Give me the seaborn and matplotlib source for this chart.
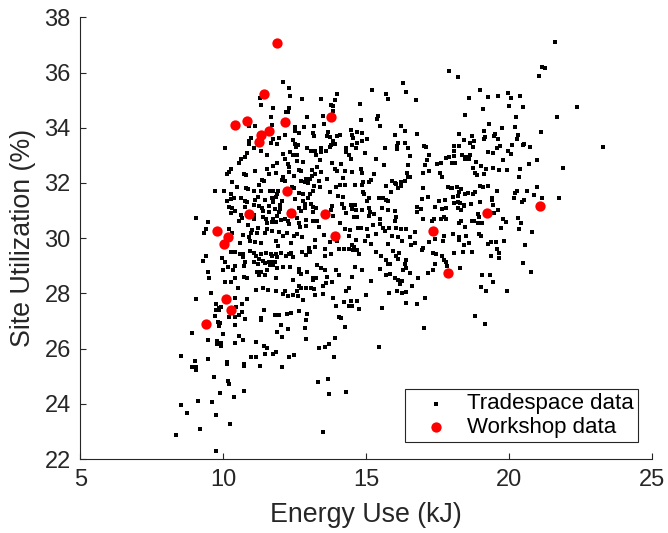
import matplotlib
matplotlib.use("Agg")
import matplotlib.pyplot as plt
import seaborn as sns
import pandas as pd

# Simulated design alternatives (energy in kJ, site utilization in %)
tradespace_energy = [
    12.10, 12.28, 12.34, 11.28, 11.33, 12.74, 11.74, 12.30, 12.20, 12.27,
    11.66, 12.92, 11.69, 10.91, 11.12, 12.50, 12.52, 12.63, 12.83, 12.15,
    10.97, 10.91, 10.88, 11.75, 11.96, 12.43, 12.49, 12.53, 12.62, 11.65,
    11.86, 12.92, 10.06, 11.07, 10.83, 10.77, 12.34, 12.44, 12.56, 12.10,
    12.16, 11.52, 11.31, 10.61, 10.55, 11.86, 11.74, 12.27, 12.31, 12.29,
    12.56, 12.80, 12.64, 12.73, 10.25, 10.18, 10.11, 10.73, 10.80, 11.12,
    11.54, 11.58, 11.85, 12.09, 12.06, 12.14, 12.46, 12.72, 12.88, 13.02,
    10.30, 10.46, 9.70, 10.02, 10.79, 10.87, 11.07, 11.36, 11.43, 11.26,
    11.31, 11.62, 11.74, 11.92, 11.88, 12.39, 12.46, 12.64, 12.78, 12.85,
    12.95, 10.28, 10.38, 10.27, 10.12, 10.63, 10.76, 10.82, 11.12, 11.20,
    11.07, 11.45, 11.69, 11.72, 11.85, 11.75, 12.04, 11.97, 12.52, 12.80,
    12.86, 12.97, 10.20, 10.31, 10.41, 10.75, 11.23, 11.35, 11.39, 11.59,
    11.61, 11.80, 11.99, 11.94, 11.88, 12.64, 12.71, 12.85, 10.26, 10.63,
    10.66, 10.56, 11.07, 11.08, 11.38, 11.48, 11.51, 11.74, 11.71, 11.85,
    12.03, 12.15, 12.27, 12.29, 12.59, 12.63, 12.69, 12.88, 12.88, 9.05,
    9.47, 9.40, 9.32, 10.21, 10.30, 10.86, 11.00, 10.96, 11.20, 11.19,
    11.45, 11.52, 11.71, 11.96, 12.10, 12.22, 12.46, 12.58, 12.76, 10.69,
    10.88,
    17.88, 16.29, 15.21, 15.70, 16.38, 15.75, 16.73, 13.96, 13.42, 13.90,
    14.78, 13.75, 13.84, 13.85, 13.48, 15.40, 15.37, 14.81, 13.51, 13.16,
    15.48, 16.20, 16.36, 14.48, 14.50, 14.55, 14.69, 14.86, 13.12, 13.17,
    13.65, 13.61, 13.73, 13.96, 14.07, 16.02, 16.79, 15.02, 14.86, 13.82,
    13.89, 13.72, 13.78, 14.69, 14.49, 14.64, 16.12, 16.09, 16.35, 16.07,
    15.65, 16.46, 17.02, 17.10, 13.05, 13.21, 13.23, 13.43, 13.59, 13.43,
    14.28, 14.29, 14.40, 14.95, 16.52, 17.18, 17.14, 17.49, 17.60, 17.80,
    17.88, 17.99, 15.33, 13.37, 13.79, 14.13, 13.89, 14.45, 15.63, 16.45,
    17.04, 13.27, 13.99, 14.25, 14.49, 14.81, 14.84, 13.10, 13.20, 13.09,
    16.41, 16.53, 16.47, 16.99, 17.20, 17.58, 17.66, 13.43, 15.26, 13.63,
    14.17, 14.07, 15.17, 15.11, 14.89, 14.86, 14.62, 15.89, 16.00, 16.04,
    16.20, 16.35, 16.23, 15.68, 13.34, 13.16, 13.38, 13.93, 14.24, 15.86,
    16.11, 16.97, 17.86, 17.95, 13.13, 13.03, 13.73, 14.01, 14.17, 14.88,
    14.91, 15.09, 15.03, 15.45, 15.58, 15.69, 15.77, 16.96, 17.15, 17.56,
    17.76, 13.07, 13.12, 13.23, 13.14, 13.80, 13.77, 13.85, 14.14, 14.22,
    14.29, 14.45, 14.62, 14.49, 14.63, 14.57, 14.67, 14.84, 15.10, 15.14,
    15.26, 15.10, 15.56, 15.75, 16.02, 16.04, 16.76, 16.79, 16.93, 17.41,
    17.66, 17.78, 17.72, 17.78, 17.62, 17.30, 17.36, 16.97, 13.12, 13.28,
    13.36, 14.07, 14.26, 14.43, 14.71, 14.83, 15.03, 15.23, 15.47, 15.48,
    15.60, 15.67, 15.81, 16.02, 16.05, 16.20, 16.38, 16.69, 13.52, 14.40,
    15.05, 15.34, 15.90, 16.12, 16.54, 17.72,
    21.62, 21.15, 21.24, 21.04, 18.20, 18.98, 18.58, 19.26, 19.62, 19.95,
    20.05, 20.39, 22.39, 19.07, 19.98, 20.47, 18.47, 20.23, 21.68, 19.29,
    19.74, 20.21, 19.12, 21.10, 18.23, 18.71, 19.15, 19.12, 19.46, 19.50,
    19.61, 20.30, 20.27, 18.43, 18.62, 18.78, 18.08, 18.26, 18.75, 19.69,
    19.57, 20.09, 20.47, 20.53, 20.72, 23.30, 18.06, 18.06, 18.36, 18.50,
    18.63, 18.45, 18.61, 19.27, 19.45, 19.96, 20.05, 20.98, 18.05, 18.10,
    18.83, 19.79, 20.69, 21.89, 18.72, 19.03, 19.18, 19.45, 19.63, 19.91,
    20.37, 18.82, 18.87, 19.11, 20.35, 18.98, 19.08, 19.26, 18.00, 18.19,
    18.30, 18.23, 18.44, 18.57, 18.72, 18.82, 19.59, 20.26, 20.20, 20.61,
    20.98, 19.41, 19.41, 20.17, 20.88, 21.76, 18.03, 18.20, 18.06, 18.22,
    18.27, 18.43, 18.43, 18.68, 18.98, 19.43, 20.52, 20.45, 21.16, 18.20,
    18.31, 19.46, 19.61, 18.92, 18.96, 18.31, 18.26, 18.71, 18.78, 18.92,
    19.05, 19.77, 19.89, 20.30, 20.40, 18.47, 19.70, 20.33, 20.79, 18.03,
    18.23, 18.49, 18.94, 19.00,
    10.59, 10.94, 11.12, 11.30, 11.85, 11.92, 12.38, 10.27, 10.40, 10.59,
    10.68, 10.70, 10.94, 11.08, 11.15, 11.32, 11.23, 11.50, 11.68, 11.71,
    11.83, 11.88, 12.03, 12.20, 12.31, 12.37, 12.45, 12.76, 12.90, 12.99,
    9.38, 9.29, 9.95, 10.06, 10.76, 10.73, 11.07, 11.22, 11.39, 11.45,
    11.59, 11.68, 11.64, 11.75, 11.82, 11.86, 12.07, 12.34, 12.64, 12.70,
    12.64, 12.93, 10.17, 10.39, 9.98, 10.32, 9.47, 9.49, 10.72, 10.84,
    11.18, 11.24, 11.33, 11.47, 11.54, 11.83, 12.43, 10.06, 10.25, 10.39,
    10.51, 9.56, 11.15, 11.38, 11.55, 11.85, 12.08, 12.17, 12.25, 12.43,
    12.58, 12.60, 12.66, 12.72, 12.78, 12.90, 9.05, 10.83, 10.66, 10.39,
    9.75, 9.86, 9.75, 9.83, 9.90, 10.45, 10.66, 10.54, 10.40, 10.21,
    9.69, 9.80, 9.84, 9.89, 10.75, 10.41, 11.41, 11.32, 11.31, 11.79,
    11.93, 12.22, 12.37, 12.63, 12.92, 12.90, 12.03, 12.25, 11.86, 12.04,
    12.86, 12.90, 8.89, 10.00, 10.56, 10.68, 9.45, 9.78, 9.93, 9.77,
    9.93, 10.41, 11.15, 11.43, 11.52, 11.15, 10.96, 11.45, 11.74, 11.85,
    12.28, 12.48, 8.50, 9.45, 9.00, 8.89, 9.03, 9.04, 10.14, 10.14,
    10.72, 10.72, 11.28, 12.06, 9.66, 10.17, 10.20, 9.89, 10.72, 10.37,
    9.12, 9.60, 8.50, 8.71, 9.74, 10.24, 9.18, 8.33, 9.74,
    13.21, 13.72, 13.99, 14.49, 14.63, 14.96, 15.17, 15.75, 16.26, 16.57,
    16.71, 17.20, 17.41, 17.69, 13.00, 13.21, 13.03, 13.55, 13.55, 13.76,
    14.03, 14.22, 14.40, 14.53, 14.57, 14.67, 14.75, 15.35, 15.52, 15.95,
    16.15, 16.05, 16.12, 15.70, 15.77, 15.84, 16.38, 16.36, 16.38, 16.30,
    16.94, 16.99, 17.34, 17.44, 17.41, 17.35, 17.64, 17.71, 17.78, 17.83,
    17.15, 13.29, 13.42, 13.56, 13.93, 14.05, 14.59, 14.86, 13.61, 13.79,
    13.58, 13.49, 13.14, 13.23, 13.12, 13.05, 13.16, 13.20, 13.49, 14.49,
    15.17, 15.48, 15.68, 15.82, 16.01, 16.10, 16.26, 16.17, 16.52, 16.82,
    16.61, 14.28, 14.38, 15.00, 15.81, 16.09, 16.26, 16.40, 13.84, 13.93,
    14.22, 14.48, 14.41, 14.49, 14.67, 14.74, 15.55, 16.38, 16.76, 17.06,
    14.04, 14.12, 14.26, 17.02, 13.90, 13.70, 13.34, 13.55, 13.86, 15.46,
    13.30, 13.66, 13.70, 14.28, 13.48,
    18.23, 18.43, 18.61, 19.26, 19.38, 19.53, 19.81, 20.54, 18.08, 18.38,
    18.70, 19.56, 19.63, 19.35, 19.65, 20.47, 20.76, 18.28, 19.06, 19.32,
    19.43, 19.00, 19.18, 19.91, 18.79, 19.14,
]

tradespace_util = [
    35.67, 35.45, 35.15, 35.09, 34.81, 35.03, 34.73, 34.73, 34.57, 34.57,
    34.39, 34.39, 34.11, 34.05, 34.05, 34.01, 33.87, 33.82, 34.01, 33.75,
    33.63, 33.52, 33.40, 33.60, 33.62, 33.56, 33.41, 33.29, 33.39, 33.43,
    33.40, 33.25, 33.25, 33.25, 33.08, 32.93, 33.13, 33.01, 33.02, 33.05,
    32.87, 33.00, 33.17, 32.86, 32.72, 32.71, 32.61, 32.70, 32.57, 32.40,
    32.81, 32.76, 32.47, 32.44, 32.52, 32.41, 32.34, 32.31, 32.28, 32.43,
    32.49, 32.34, 32.37, 32.21, 32.12, 32.06, 32.25, 32.06, 32.13, 32.14,
    32.03, 31.86, 31.72, 31.72, 31.80, 31.77, 31.72, 32.09, 32.07, 31.91,
    31.71, 31.72, 31.70, 31.70, 31.61, 31.84, 31.80, 31.64, 31.59, 32.03,
    31.99, 31.60, 31.47, 31.42, 31.33, 31.47, 31.36, 31.32, 31.37, 31.48,
    31.21, 31.39, 31.47, 31.38, 31.48, 31.30, 31.35, 31.20, 31.42, 31.35,
    31.22, 31.45, 31.12, 31.08, 30.99, 31.14, 31.18, 31.10, 30.98, 31.15,
    30.93, 31.06, 31.06, 30.93, 30.80, 31.09, 30.98, 31.09, 30.90, 30.85,
    30.74, 30.61, 30.84, 30.68, 30.78, 30.69, 30.55, 30.68, 30.58, 30.57,
    30.66, 30.70, 30.61, 30.52, 30.72, 30.56, 30.40, 30.67, 30.45, 30.72,
    30.58, 30.32, 30.17, 30.32, 30.19, 30.46, 30.31, 30.19, 30.38, 30.17,
    30.19, 30.32, 30.27, 30.23, 30.09, 30.19, 30.09, 30.14, 30.05, 30.10,
    30.04,
    36.04, 35.61, 35.37, 35.23, 35.31, 35.03, 34.99, 35.21, 35.03, 34.99,
    34.87, 34.81, 34.79, 34.59, 34.41, 34.41, 34.32, 34.27, 34.14, 34.07,
    34.05, 34.07, 33.89, 33.92, 33.75, 33.62, 33.83, 33.80, 33.80, 33.69,
    33.86, 33.71, 33.66, 33.70, 33.72, 33.75, 33.77, 33.60, 33.52, 33.51,
    33.42, 33.29, 33.36, 33.43, 33.36, 33.28, 33.45, 33.33, 33.46, 33.23,
    33.27, 33.25, 33.35, 33.31, 33.17, 33.16, 33.00, 33.27, 33.16, 33.12,
    33.25, 33.12, 33.00, 33.10, 32.98, 33.00, 32.84, 32.67, 32.72, 32.89,
    32.93, 32.72, 32.86, 32.82, 32.72, 32.69, 32.49, 32.87, 32.65, 32.65,
    32.64, 32.57, 32.44, 32.42, 32.40, 32.50, 32.36, 32.47, 32.32, 32.25,
    32.36, 32.23, 32.20, 32.37, 32.42, 32.37, 32.23, 32.40, 32.34, 32.13,
    32.18, 31.94, 32.12, 32.05, 32.05, 31.94, 31.94, 32.06, 32.01, 31.95,
    32.02, 32.06, 31.90, 31.89, 32.06, 31.89, 31.84, 31.84, 31.94, 31.67,
    31.82, 31.82, 31.84, 31.82, 31.70, 31.60, 31.67, 31.51, 31.48, 31.67,
    31.59, 31.45, 31.33, 31.45, 31.45, 31.37, 31.36, 31.42, 31.50, 31.36,
    31.37, 31.24, 31.13, 31.09, 30.93, 31.16, 31.02, 30.79, 31.24, 31.08,
    30.90, 31.20, 31.20, 31.04, 31.03, 30.75, 30.77, 31.03, 31.08, 30.96,
    30.89, 30.79, 31.08, 31.01, 30.98, 30.77, 31.12, 30.95, 31.04, 31.12,
    31.04, 31.09, 30.75, 30.68, 30.71, 30.63, 30.71, 30.68, 30.63, 30.62,
    30.39, 30.56, 30.33, 30.31, 30.37, 30.38, 30.33, 30.49, 30.69, 30.51,
    30.36, 30.27, 30.36, 30.61, 30.38, 30.34, 30.33, 30.21, 30.11, 30.09,
    30.07, 30.14, 30.09, 30.04, 30.04, 30.09,
    37.11, 36.19, 36.15, 35.87, 35.85, 35.36, 35.07, 35.11, 35.15, 35.27,
    35.07, 35.14, 34.75, 34.69, 34.79, 34.75, 34.47, 34.39, 34.39, 34.14,
    33.99, 34.04, 33.89, 33.83, 33.77, 33.71, 33.68, 33.59, 33.71, 33.77,
    33.58, 33.74, 33.59, 33.57, 33.46, 33.52, 33.35, 33.35, 33.30, 33.33,
    33.25, 33.37, 33.36, 33.40, 33.31, 33.31, 33.14, 32.98, 33.00, 32.95,
    33.00, 32.85, 32.85, 33.12, 33.10, 33.16, 33.04, 32.84, 32.73, 32.73,
    32.77, 32.83, 32.70, 32.55, 32.55, 32.61, 32.49, 32.54, 32.46, 32.46,
    32.49, 32.37, 32.28, 32.32, 32.23, 31.90, 31.84, 31.90, 31.82, 31.84,
    31.77, 31.68, 31.59, 31.62, 31.59, 31.67, 31.70, 31.72, 31.65, 31.70,
    31.84, 31.47, 31.39, 31.47, 31.56, 31.44, 31.50, 31.54, 31.27, 31.31,
    31.27, 31.21, 31.15, 31.22, 31.32, 31.20, 31.39, 31.30, 31.44, 31.08,
    31.01, 30.92, 31.02, 30.89, 30.75, 30.64, 30.55, 30.63, 30.62, 30.55,
    30.55, 30.68, 30.60, 30.72, 30.54, 30.42, 30.38, 30.32, 30.23, 30.15,
    30.03, 30.08, 30.15, 30.07,
    29.83, 29.88, 29.86, 29.83, 29.88, 29.73, 29.83, 29.49, 29.49, 29.44,
    29.43, 29.32, 29.52, 29.46, 29.34, 29.42, 29.23, 29.47, 29.44, 29.35,
    29.44, 29.31, 29.46, 29.37, 29.42, 29.47, 29.30, 29.49, 29.40, 29.54,
    29.34, 29.18, 29.28, 29.13, 29.15, 29.00, 29.15, 29.06, 29.18, 29.11,
    29.13, 29.15, 29.03, 29.03, 29.15, 28.93, 28.95, 28.95, 28.88, 28.70,
    28.79, 28.79, 28.94, 29.01, 28.85, 28.83, 28.79, 28.57, 28.59, 28.57,
    28.76, 28.67, 28.77, 28.65, 28.84, 28.55, 28.47, 28.43, 28.41, 28.56,
    28.19, 28.03, 28.12, 28.19, 28.13, 28.09, 27.97, 28.09, 27.89, 27.95,
    28.07, 27.89, 28.25, 28.19, 27.77, 28.21, 27.78, 27.81, 27.63, 27.84,
    27.62, 27.46, 27.39, 27.40, 27.50, 27.51, 27.31, 27.20, 27.16, 27.15,
    27.17, 26.98, 26.82, 26.94, 27.08, 26.86, 27.38, 27.10, 27.04, 27.20,
    27.20, 27.26, 27.28, 27.36, 27.26, 27.02, 26.86, 26.71, 26.59, 26.41,
    26.74, 26.35, 26.55, 26.52, 26.46, 26.32, 26.32, 26.26, 26.22, 26.17,
    26.10, 26.22, 26.24, 26.10, 26.01, 25.70, 25.68, 25.82, 25.80, 25.86,
    25.70, 25.76, 25.74, 25.62, 25.54, 25.35, 25.35, 25.21, 25.52, 25.45,
    25.43, 25.36, 25.37, 25.34, 24.98, 24.84, 24.72, 24.38, 24.48, 24.26,
    24.11, 24.07, 23.97, 23.66, 23.60, 23.26, 23.09, 22.87, 22.28,
    29.92, 29.86, 29.88, 29.76, 29.93, 29.88, 29.78, 29.78, 29.90, 29.76,
    29.81, 29.86, 29.96, 29.89, 29.64, 29.67, 29.49, 29.59, 29.37, 29.43,
    29.59, 29.61, 29.61, 29.57, 29.69, 29.58, 29.43, 29.49, 29.34, 29.52,
    29.46, 29.37, 29.23, 29.20, 29.08, 29.08, 29.20, 29.08, 28.91, 28.85,
    29.58, 29.66, 29.46, 29.42, 29.07, 28.84, 29.37, 29.20, 29.13, 29.01,
    28.74, 29.03, 28.91, 28.84, 28.84, 28.67, 28.97, 28.85, 28.60, 28.43,
    28.37, 28.27, 28.57, 28.55, 28.49, 28.19, 28.15, 27.95, 27.97, 28.61,
    28.45, 28.88, 28.67, 28.71, 28.55, 28.50, 28.45, 28.33, 28.73, 28.57,
    28.27, 28.09, 28.21, 27.93, 28.00, 28.09, 28.03, 28.04, 27.85, 27.56,
    27.67, 27.73, 27.56, 27.56, 27.71, 27.44, 27.46, 27.66, 27.62, 27.85,
    27.14, 27.10, 26.78, 26.76, 26.38, 26.18, 26.01, 26.04, 25.68, 26.04,
    24.78, 24.90, 24.35, 24.42, 22.98,
    29.94, 29.77, 29.83, 29.78, 29.86, 29.87, 29.90, 29.75, 29.47, 29.49,
    29.49, 29.61, 29.46, 29.34, 29.28, 29.11, 28.79, 28.91, 28.68, 28.65,
    28.43, 28.24, 28.09, 28.09, 27.17, 26.90,
]

# Designs proposed by workshop participants
workshop_energy = [11.88, 11.43, 10.42, 10.81, 12.14, 11.61, 11.32, 11.26,
                   12.23, 10.90, 12.37, 9.78, 10.17, 10.02, 10.10, 10.28,
                   9.38, 13.76, 13.55, 13.91, 17.34, 19.21, 21.08, 17.87]
workshop_util = [37.06, 35.22, 34.10, 34.24, 34.22, 33.88, 33.75, 33.50,
                 31.71, 30.89, 30.91, 30.27, 30.05, 29.78, 27.78, 27.38,
                 26.88, 34.38, 30.89, 30.09, 30.27, 30.91, 31.18, 28.74]

x_ticks = [5, 10, 15, 20, 25]
y_ticks = [22, 24, 26, 28, 30, 32, 34, 36, 38]

tradespace = pd.DataFrame({"energy": tradespace_energy, "util": tradespace_util})
workshop = pd.DataFrame({"energy": workshop_energy, "util": workshop_util})

sns.set_theme(style="white")
plt.rcParams["font.family"] = ["Liberation Sans", "DejaVu Sans"]

axis_color = "#262626"

fig = plt.figure(figsize=(6.68, 5.33), dpi=100)
ax = fig.add_axes([0.1205, 0.1388, 0.8555, 0.8287])

sns.scatterplot(data=tradespace, x="energy", y="util", ax=ax,
                marker="s", s=5, color="black", linewidth=0,
                label="Tradespace data")
sns.scatterplot(data=workshop, x="energy", y="util", ax=ax,
                marker="o", s=55, color="#ff0000", linewidth=0,
                label="Workshop data")

ax.set_xlim(5, 25)
ax.set_ylim(22, 38)
ax.set_xticks(x_ticks)
ax.set_yticks(y_ticks)

for side in ("top", "right"):
    ax.spines[side].set_visible(False)
for side in ("left", "bottom"):
    ax.spines[side].set_color(axis_color)
    ax.spines[side].set_linewidth(0.8)

ax.tick_params(axis="both", which="major", bottom=True, left=True,
               direction="in", length=4.3, width=0.8,
               color=axis_color, labelcolor=axis_color, labelsize=17)
ax.tick_params(axis="x", pad=7)
ax.tick_params(axis="y", pad=7)

ax.set_xlabel("Energy Use (kJ)", fontsize=19.3, color=axis_color, labelpad=8)
ax.set_ylabel("Site Utilization (%)", fontsize=19.3, color=axis_color, labelpad=6)

leg = ax.legend(loc="lower right", bbox_to_anchor=(0.9755, 0.0385),
                borderaxespad=0, fontsize=16, frameon=True, fancybox=False,
                framealpha=1, edgecolor=axis_color, handletextpad=0.2,
                borderpad=0.2, labelspacing=0.1, handlelength=2.4,
                markerscale=1.0)
leg.get_frame().set_linewidth(0.8)
for t in leg.get_texts():
    t.set_color("black")
leg.legend_handles[0].set_sizes([8])

fig.savefig("out.png", dpi=100)
